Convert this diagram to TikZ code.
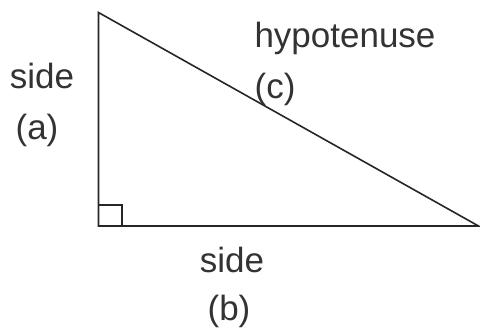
\documentclass[tikz,border=0pt]{standalone}
\usepackage{fontspec}
\setmainfont{Liberation Sans}
\begin{document}
\begin{tikzpicture}[x=1pt,y=-1pt,
  edge/.style={draw=black!85,line width=1.6pt,line join=miter},
  lbl/.style={inner sep=0pt,font=\fontsize{35}{37}\selectfont,text=black!80}]
\useasboundingbox (0,0) rectangle (480,330);
\coordinate (A) at (98.5,12.5);
\coordinate (C) at (98.5,226);
\coordinate (B) at (478.5,226);
\draw[edge] (A) -- (C) -- (B) -- cycle;
\coordinate (s1) at (122,226);
\coordinate (s2) at (122,205);
\coordinate (s3) at (98.5,205);
\draw[edge,line width=1.3pt] (s3) -- (s2) -- (s1);
\node[lbl,anchor=base] (sa) at (42,88) {side};
\node[lbl] (pa) at (37,130) {(a)};
\node[lbl,anchor=base] (hy) at (345,47) {hypotenuse};
\node[lbl] (pc) at (275,89) {(c)};
\node[lbl,anchor=base] (sb) at (232,272) {side};
\node[lbl] (pb) at (229,311) {(b)};
\end{tikzpicture}
\end{document}
